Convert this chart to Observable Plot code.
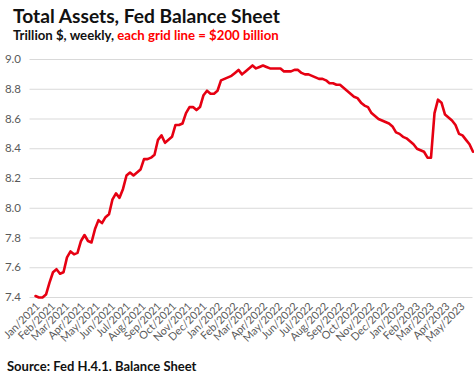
<!DOCTYPE html>
<html>
<head>
<meta charset="utf-8">
<script src="https://cdn.jsdelivr.net/npm/d3@7"></script>
<script src="https://cdn.jsdelivr.net/npm/@observablehq/plot@0.6"></script>
<style>
  html, body { margin: 0; padding: 0; background: #fff; }
  body { width: 474px; height: 375px; overflow: hidden; font-family: Lato, "Open Sans", sans-serif; }
  #title { position: absolute; left: 13px; top: 4px; font-size: 19.2px; font-weight: 700; color: #111; white-space: nowrap; }
  #subtitle { position: absolute; left: 13px; top: 27px; font-size: 13.2px; font-weight: 700; color: #111; white-space: nowrap; }
  #subtitle .red { color: #ff0000; }
  #chart { position: absolute; left: 0; top: 45px; }
  #source { position: absolute; left: 7px; top: 358px; font-size: 13px; font-weight: 700; color: #111; white-space: nowrap; }
</style>
</head>
<body>
<div id="title">Total Assets, Fed Balance Sheet</div>
<div id="subtitle">Trillion $, weekly, <span class="red">each grid line = $200 billion</span></div>
<div id="chart"></div>
<div id="source">Source: Fed H.4.1. Balance Sheet</div>
<script>
// Weekly observations, first week ending Jan 6, 2021
const startDate = "2021-01-06";
const totalAssets = [
  7.41, 7.40, 7.40, 7.42, 7.50, 7.57, 7.59, 7.56, 7.57, 7.67,
  7.71, 7.69, 7.70, 7.78, 7.82, 7.78, 7.77, 7.86, 7.92, 7.90,
  7.94, 7.96, 8.06, 8.10, 8.07, 8.13, 8.22, 8.24, 8.22, 8.24,
  8.26, 8.33, 8.33, 8.34, 8.36, 8.46, 8.49, 8.44, 8.46, 8.48,
  8.56, 8.56, 8.57, 8.64, 8.68, 8.68, 8.66, 8.68, 8.76, 8.79,
  8.77, 8.77, 8.79, 8.86, 8.87, 8.88, 8.89, 8.91, 8.93, 8.90,
  8.92, 8.94, 8.96, 8.94, 8.95, 8.96, 8.95, 8.94, 8.94, 8.94,
  8.94, 8.92, 8.92, 8.92, 8.93, 8.93, 8.91, 8.90, 8.90, 8.89,
  8.88, 8.87, 8.87, 8.86, 8.84, 8.84, 8.83, 8.83, 8.81, 8.79,
  8.77, 8.75, 8.74, 8.71, 8.69, 8.68, 8.64, 8.62, 8.60, 8.59,
  8.58, 8.57, 8.55, 8.51, 8.50, 8.48, 8.47, 8.45, 8.43, 8.40,
  8.39, 8.38, 8.34, 8.34, 8.64, 8.73, 8.71, 8.63, 8.61, 8.59,
  8.56, 8.50, 8.49, 8.46, 8.43, 8.38
];
const yTicks = [7.4, 7.6, 7.8, 8.0, 8.2, 8.4, 8.6, 8.8, 9.0];
const monthNames = ["Jan","Feb","Mar","Apr","May","Jun","Jul","Aug","Sep","Oct","Nov","Dec"];
const xTickStart = "2021-01-01";
const xTickEnd = "2023-05-01";
const xDomainEnd = "2023-05-31";

const start = new Date(startDate + "T00:00:00Z");
const data = totalAssets.map((v, i) => ({date: d3.utcWeek.offset(start, i), value: v}));
const xTicks = d3.utcMonth.range(new Date(xTickStart + "T00:00:00Z"), d3.utcMonth.offset(new Date(xTickEnd + "T00:00:00Z"), 1));
const fmtTick = d => monthNames[d.getUTCMonth()] + "/" + d.getUTCFullYear();

const chart = Plot.plot({
  width: 474,
  height: 300,
  marginLeft: 32.5,
  marginRight: 1.5,
  marginTop: 14,
  marginBottom: 48,
  style: {fontFamily: "Lato, 'Open Sans', sans-serif", fontSize: "11px", color: "#595959", background: "#fff", overflow: "visible"},
  x: {type: "utc", domain: [new Date(xTickStart + "T00:00:00Z"), new Date(xDomainEnd + "T00:00:00Z")]},
  y: {domain: [7.4, 9.0]},
  marks: [
    Plot.ruleY(yTicks, {stroke: "#d9d9d9", strokeWidth: 1, insetLeft: -3}),
    Plot.axisY({ticks: yTicks, tickFormat: d => d.toFixed(1), tickSize: 0, tickPadding: 12, label: null, fontSize: 11.5, fill: "#595959"}),
    Plot.axisX({ticks: xTicks, tickFormat: fmtTick, tickRotate: -45, tickSize: 0, tickPadding: 7, dx: 5, label: null, fontSize: 10.8, fill: "#595959"}),
    Plot.lineY(data, {x: "date", y: "value", stroke: "#e60012", strokeWidth: 2.6, curve: "linear"})
  ]
});
document.getElementById("chart").appendChild(chart);
</script>
</body>
</html>
